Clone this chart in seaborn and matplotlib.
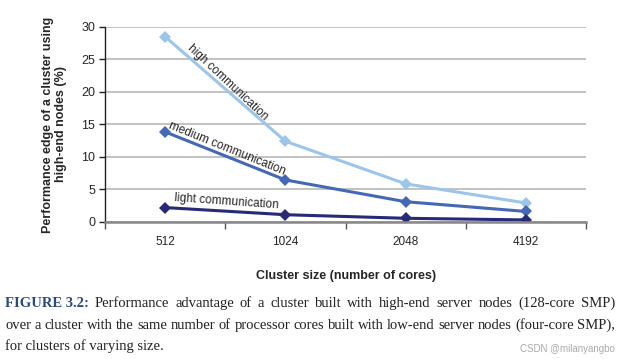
import matplotlib
matplotlib.use("Agg")
import matplotlib.pyplot as plt
import seaborn as sns
import pandas as pd

cluster_sizes = ["512", "1024", "2048", "4192"]
high_comm = [28.5, 12.4, 5.85, 2.9]
medium_comm = [13.85, 6.45, 3.1, 1.6]
light_comm = [2.2, 1.1, 0.55, 0.3]
series_names = ["high communication", "medium communication", "light communication"]
colors = ["#9cc5ea", "#4468b5", "#262a78"]

rows = []
for name, vals in zip(series_names, [high_comm, medium_comm, light_comm]):
    for c, v in zip(cluster_sizes, vals):
        rows.append({"size": c, "value": v, "series": name})
df = pd.DataFrame(rows)

sns.set_theme(style="white")
plt.rcParams["font.family"] = ["Liberation Sans", "DejaVu Sans"]

fig = plt.figure(figsize=(6.21, 3.59), dpi=100)
ax = fig.add_axes([0.169, 0.382, 0.775, 0.543])

sns.lineplot(data=df, x="size", y="value", hue="series", palette=colors,
             marker="D", markersize=6.5, markeredgewidth=0, linewidth=2.2,
             legend=False, ax=ax, sort=False)

ax.set_xlim(-0.5, 3.5)
ax.set_ylim(0, 30)
ax.set_yticks([0, 5, 10, 15, 20, 25, 30])
ax.yaxis.grid(True, color="#b8b8b8", linewidth=1.2)
ax.set_axisbelow(True)
ax.set_xticks([0, 1, 2, 3])
ax.set_xticklabels(cluster_sizes, fontsize=8.5)
ax.set_xticks([-0.5, 0.5, 1.5, 2.5, 3.5], minor=True)
ax.tick_params(axis="x", which="major", length=0, pad=10)
ax.tick_params(axis="x", which="minor", length=5, color="#555555", width=1, direction="out", bottom=True)
ax.tick_params(axis="y", labelsize=9, length=4, color="#222222", width=1, left=True, pad=3)
for s in ["top", "right"]:
    ax.spines[s].set_visible(False)
ax.spines["left"].set_color("#222222")
ax.spines["left"].set_linewidth(1)
ax.spines["bottom"].set_color("#888888")
ax.spines["bottom"].set_linewidth(1.8)

ax.set_xlabel("Cluster size (number of cores)", fontsize=9, fontweight="bold", labelpad=16)
ax.set_ylabel("Performance edge of a cluster using\nhigh-end nodes (%)", fontsize=9,
              fontweight="bold", labelpad=10, linespacing=1.1)

ax.text(0.235, 27.6, "high communication", rotation=-43, fontsize=8.5, ha="left", va="top",
        rotation_mode="anchor")
ax.text(0.05, 15.8, "medium communication", rotation=-22, fontsize=8.5, ha="left", va="top",
        rotation_mode="anchor")
ax.text(0.08, 4.6, "light communication", rotation=-4, fontsize=8.5, ha="left", va="top",
        rotation_mode="anchor")

cap_font = ["Liberation Serif", "DejaVu Serif"]
cap_size = 10.5
x_left, x_right = 5, 615
W = fig.bbox.width
H = fig.bbox.height


def justified_line(words, y_px, first_bold=None):
    fig.canvas.draw()
    renderer = fig.canvas.get_renderer()
    items = []
    if first_bold:
        items.append((first_bold, "bold", "#2a4a7f"))
    for w in words:
        items.append((w, "normal", "#222222"))
    texts = []
    widths = []
    for s, wgt, col in items:
        t = fig.text(0, 1 - y_px / H, s, fontsize=cap_size, fontweight=wgt, color=col,
                     family=cap_font, va="baseline", ha="left")
        widths.append(t.get_window_extent(renderer).width)
        texts.append(t)
    gap = (x_right - x_left - sum(widths)) / (len(texts) - 1)
    x = x_left
    for t, w in zip(texts, widths):
        t.set_x(x / W)
        x += w + gap


justified_line("Performance advantage of a cluster built with high-end server nodes (128-core SMP)".split(),
               307, first_bold="FIGURE 3.2:")
justified_line("over a cluster with the same number of processor cores built with low-end server nodes (four-core SMP),".split(),
               329)
fig.text(x_left / W, 1 - 350 / H, "for clusters of varying size.",
         fontsize=cap_size, family=cap_font, va="baseline", color="#222222")
fig.text(0.99, 1 - 349 / H, "CSDN @milanyangbo", fontsize=7, color="#aaaaaa", ha="right", va="center")

fig.savefig("out.png", dpi=100)
